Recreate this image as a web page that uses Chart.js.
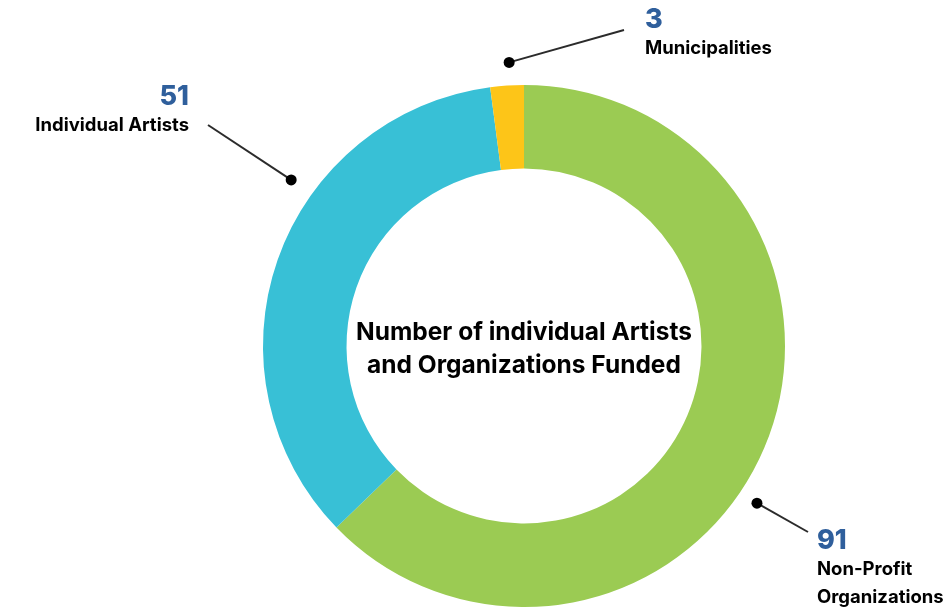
<!DOCTYPE html>
<html lang="en">
<head>
    <meta charset="UTF-8">
    <title>Artists and Organizations Funded</title>
    <script src="https://cdn.jsdelivr.net/npm/chart.js"></script>
    <style>
        body {
            margin: 0;
            background: #ffffff;
        }
        canvas {
            display: block;
        }
    </style>
</head>
<body>
    <canvas id="chart" width="947" height="610"></canvas>

    <script>
        // funded counts, clockwise from 12 o'clock
        const categorias = ['Non-Profit Organizations', 'Individual Artists', 'Municipalities'];
        const valores = [91, 51, 3];
        const cores = ['#9bcb53', '#38c0d6', '#fdc518'];

        // callout text for each slice
        const rotulos = [['Non-Profit', 'Organizations'], ['Individual Artists'], ['Municipalities']];
        const titulo = ['Number of individual Artists', 'and Organizations Funded'];

        // callout layout: dot angle (deg clockwise from top) and distance from centre,
        // line end and text anchor in canvas pixels
        const chamadas = [
            { angulo: 124, dist: 281, fim: [808, 532], texto: [817, 549], alinhar: 'left' },
            { angulo: 305.5, dist: 286, fim: [208, 125], texto: [189, 105], alinhar: 'right' },
            { angulo: 357, dist: 284, fim: [624, 30], texto: [645, 28], alinhar: 'left' }
        ];

        const FONTE = 'Inter, "DejaVu Sans", sans-serif';

        const pluginRotulos = {
            id: 'rotulos',
            afterDraw(chart) {
                const ctx = chart.ctx;
                const arco = chart.getDatasetMeta(0).data[0];
                const cx = arco.x;
                const cy = arco.y;

                ctx.save();

                // centre title
                ctx.fillStyle = '#000000';
                ctx.font = '700 24.5px ' + FONTE;
                ctx.textAlign = 'center';
                ctx.textBaseline = 'alphabetic';
                ctx.fillText(titulo[0], cx, 340);
                ctx.fillText(titulo[1], cx, 373);

                chamadas.forEach((c, i) => {
                    const a = c.angulo * Math.PI / 180;
                    const px = cx + Math.sin(a) * c.dist;
                    const py = cy - Math.cos(a) * c.dist;

                    ctx.strokeStyle = '#2b2b2b';
                    ctx.lineWidth = 2;
                    ctx.beginPath();
                    ctx.moveTo(px, py);
                    ctx.lineTo(c.fim[0], c.fim[1]);
                    ctx.stroke();

                    ctx.fillStyle = '#000000';
                    ctx.beginPath();
                    ctx.arc(px, py, 5.5, 0, Math.PI * 2);
                    ctx.fill();

                    ctx.textAlign = c.alinhar;
                    ctx.fillStyle = '#2f5f9c';
                    ctx.font = '800 27px ' + FONTE;
                    ctx.fillText(String(valores[i]), c.texto[0], c.texto[1]);

                    ctx.fillStyle = '#000000';
                    ctx.font = '700 18.5px ' + FONTE;
                    rotulos[i].forEach((linha, j) => {
                        ctx.fillText(linha, c.texto[0], c.texto[1] + 26 + j * 28);
                    });
                });

                ctx.restore();
            }
        };

        const ctx = document.getElementById('chart').getContext('2d');
        new Chart(ctx, {
            type: 'doughnut',
            data: {
                labels: categorias,
                datasets: [{
                    data: valores,
                    backgroundColor: cores,
                    borderWidth: 0
                }]
            },
            options: {
                responsive: false,
                animation: false,
                cutout: '68%',
                layout: {
                    padding: { left: 263, right: 162, top: 85, bottom: 3 }
                },
                plugins: {
                    legend: { display: false },
                    tooltip: { enabled: false }
                }
            },
            plugins: [pluginRotulos]
        });
    </script>
</body>
</html>
